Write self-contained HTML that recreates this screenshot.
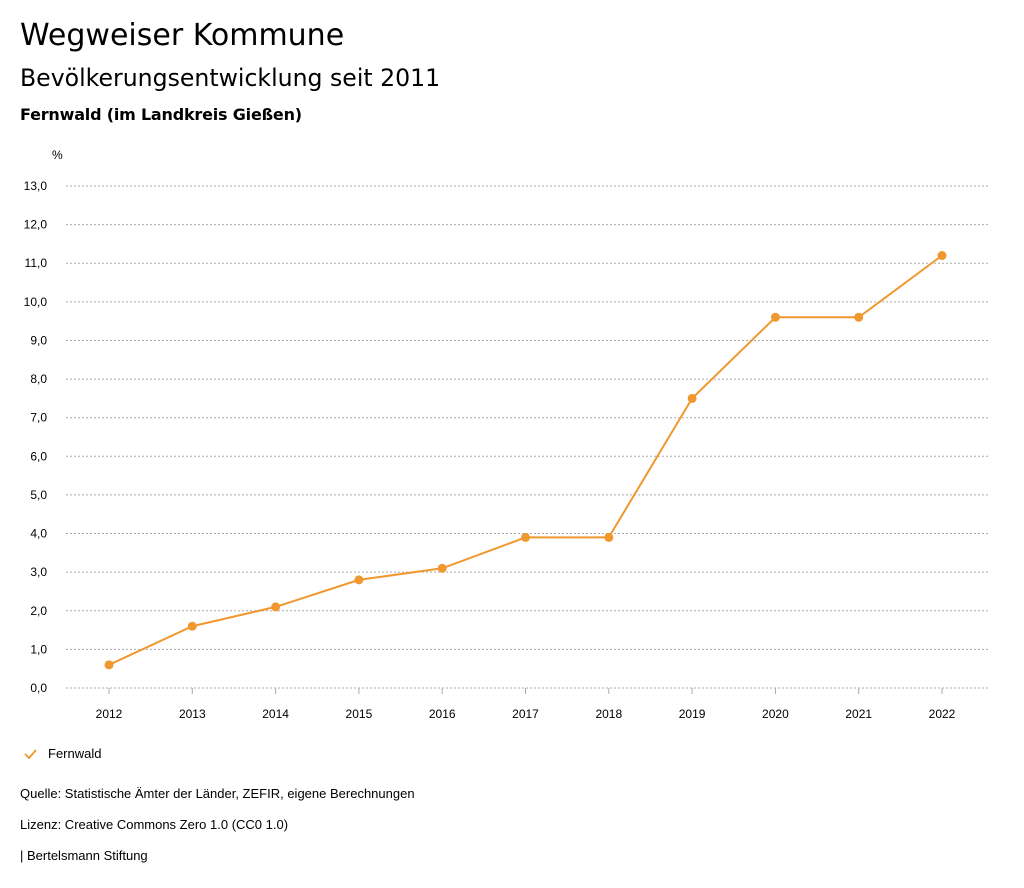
<!DOCTYPE html>
<html><head><meta charset="utf-8"><style>
body{margin:0;background:#fff;font-family:"Liberation Sans",sans-serif;color:#000;}
#wrap{position:relative;width:1024px;height:888px;overflow:hidden;}
.t{position:absolute;white-space:nowrap;}
.d{font-family:"DejaVu Sans",sans-serif;}
</style></head><body>
<div id="wrap">
<div class="t d" style="left:20px;top:18px;font-size:30px;">Wegweiser Kommune</div>
<div class="t d" style="left:20px;top:64px;font-size:23.6px;">Bevölkerungsentwicklung seit 2011</div>
<div class="t d" style="left:20px;top:105px;font-size:16px;font-weight:bold;letter-spacing:-0.2px;">Fernwald (im Landkreis Gießen)</div>
<svg id="chart" width="1024" height="888" style="position:absolute;left:0;top:0"></svg>
<div class="t" style="left:48px;top:746px;font-size:13px;">Fernwald</div>
<div class="t" style="left:20px;top:786px;font-size:13px;">Quelle: Statistische Ämter der Länder, ZEFIR, eigene Berechnungen</div>
<div class="t" style="left:20px;top:817px;font-size:13px;">Lizenz: Creative Commons Zero 1.0 (CC0 1.0)</div>
<div class="t" style="left:20px;top:848px;font-size:13px;">| Bertelsmann Stiftung</div>
</div>
<script>
const years=[2012,2013,2014,2015,2016,2017,2018,2019,2020,2021,2022];
const values=[0.6,1.6,2.1,2.8,3.1,3.9,3.9,7.5,9.6,9.6,11.2];
const yTicks=[0,1,2,3,4,5,6,7,8,9,10,11,12,13];
const NS="http://www.w3.org/2000/svg";
const svg=document.getElementById('chart');
const y=v=>688-v*(502/13);
const x=i=>109+i*(833/(years.length-1));
function mk(tag,attrs){const e=document.createElementNS(NS,tag);for(const k in attrs)e.setAttribute(k,attrs[k]);svg.appendChild(e);return e;}
const u=mk('text',{x:52,y:159,'font-size':12,'font-family':'Liberation Sans'});u.textContent='%';


yTicks.forEach(v=>{
 const l=mk('line',{x1:66,x2:990,y1:y(v),y2:y(v),stroke:'#aaa','stroke-dasharray':'2,2','stroke-width':1});
 
 
 const t=mk('text',{x:47,y:y(v)+4,'text-anchor':'end','font-size':12,'font-family':'Liberation Sans'});
 t.textContent=v.toFixed(1).replace('.',',');
 
 
});
years.forEach((yr,i)=>{
 const tk=mk('line',{x1:x(i),x2:x(i),y1:688,y2:694,stroke:'#aaa'});
 
 
 const t=mk('text',{x:x(i),y:718,'text-anchor':'middle','font-size':12,'font-family':'Liberation Sans'});
 t.textContent=yr;
 
 
});
const p=mk('polyline',{points:values.map((v,i)=>x(i)+','+y(v)).join(' '),fill:'none',stroke:'#f0982f','stroke-width':2});


values.forEach((v,i)=>{
 const c=mk('circle',{cx:x(i),cy:y(v),r:4.5,fill:'#f0982f'});
 
 
});
const lg=mk('polyline',{points:'25,754 29,758 36,750',fill:'none',stroke:'#f0982f','stroke-width':1.8});


</script>
</body></html>
